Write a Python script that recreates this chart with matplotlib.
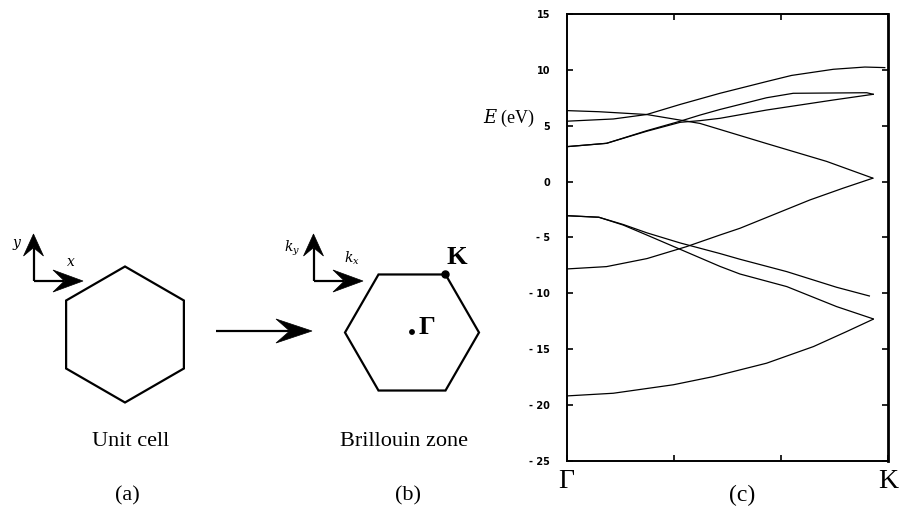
import numpy as np
import matplotlib.pyplot as plt
from matplotlib.patches import Polygon, Circle

plt.rcParams['font.family'] = ['Liberation Serif', 'DejaVu Serif']
plt.rcParams['mathtext.fontset'] = 'dejavuserif'

# Band energies (eV) along the Gamma -> K line, k given as fraction of the path
k_a = [0, 0.145, 0.249, 0.353, 0.415, 0.477, 0.56, 0.622, 0.70, 0.83, 0.928, 0.99]
e_a = [5.4, 5.6, 6.0, 6.9, 7.4, 7.9, 8.5, 8.95, 9.5, 10.05, 10.25, 10.2]

k_b = [0, 0.1, 0.249, 0.353, 0.415, 0.622, 0.809, 0.953]
e_b = [6.35, 6.25, 6.0, 5.5, 5.2, 3.4, 1.8, 0.3]

k_c1 = [0, 0.124, 0.249, 0.353, 0.415, 0.477, 0.622, 0.83, 0.954]
e_c1 = [3.12, 3.42, 4.5, 5.3, 5.45, 5.66, 6.4, 7.3, 7.81]

k_c2 = [0, 0.124, 0.249, 0.353, 0.415, 0.477, 0.56, 0.622, 0.705, 0.934, 0.954]
e_c2 = [3.12, 3.42, 4.55, 5.4, 5.95, 6.45, 7.05, 7.5, 7.9, 7.95, 7.81]

k_d1 = [0, 0.1, 0.176, 0.25, 0.353, 0.477, 0.539, 0.685, 0.84, 0.942]
e_d1 = [-3.06, -3.2, -3.85, -4.6, -5.5, -6.45, -6.96, -8.07, -9.47, -10.25]

k_d2 = [0, 0.1, 0.176, 0.25, 0.353, 0.477, 0.539, 0.685, 0.84, 0.954]
e_d2 = [-3.06, -3.2, -3.9, -4.8, -6.07, -7.6, -8.28, -9.41, -11.2, -12.3]

k_e = [0, 0.124, 0.25, 0.373, 0.477, 0.539, 0.757, 0.86, 0.952]
e_e = [-7.83, -7.62, -6.9, -5.83, -4.79, -4.19, -1.65, -0.6, 0.29]

k_f = [0, 0.145, 0.332, 0.456, 0.622, 0.768, 0.871, 0.954]
e_f = [-19.2, -18.96, -18.2, -17.47, -16.27, -14.78, -13.44, -12.33]

bands = [(k_a, e_a), (k_b, e_b), (k_c1, e_c1), (k_c2, e_c2),
         (k_d1, e_d1), (k_d2, e_d2), (k_e, e_e), (k_f, e_f)]

y_ticks = [15, 10, 5, 0, -5, -10, -15, -20, -25]
y_ticklabels = ['15', '10', '5', '0', '- 5', '- 10', '- 15', '- 20', '- 25']

W, H = 901, 509
fig = plt.figure(figsize=(W / 100, H / 100), dpi=100)

# --- overlay in pixel units for the two hexagon sketches ---
ov = fig.add_axes([0, 0, 1, 1])
ov.set_xlim(0, W)
ov.set_ylim(H, 0)
ov.axis('off')


def arrow(ax, x0, y0, x1, y1, head_len, head_w, lw=1.6):
    """Straight shaft with a filled notched arrowhead at (x1, y1)."""
    d = np.array([x1 - x0, y1 - y0], dtype=float)
    L = np.hypot(*d)
    u = d / L
    n = np.array([-u[1], u[0]])
    tip = np.array([x1, y1])
    base = tip - u * head_len
    notch = tip - u * head_len * 0.62
    ax.plot([x0, notch[0]], [y0, notch[1]], color='black', lw=lw,
            solid_capstyle='butt')
    pts = [tip, base + n * head_w, notch, base - n * head_w]
    ax.add_patch(Polygon(pts, closed=True, fc='black', ec='black', lw=0.5))


def hexagon(ax, cx, cy, r, flat_top):
    start = 0 if flat_top else 90
    ang = np.radians(start + 60 * np.arange(6))
    pts = np.column_stack([cx + r * np.cos(ang), cy - r * np.sin(ang)])
    ax.add_patch(Polygon(pts, closed=True, fill=False, ec='black', lw=1.6,
                         joinstyle='miter'))
    return pts


# (a) real-space unit cell
hexagon(ov, 125, 334.5, 68, flat_top=False)
arrow(ov, 33.5, 281, 33.5, 234, 22, 10)
arrow(ov, 33.5, 281, 83, 281, 30, 11)
ov.text(17, 245, '$y$', fontsize=10, ha='center', va='center')
ov.text(71, 263, '$x$', fontsize=10, ha='center', va='center')
ov.text(131, 442, 'Unit cell', fontsize=16, ha='center', va='center')
ov.text(127, 496, '(a)', fontsize=16, ha='center', va='center')

# arrow between the two sketches
arrow(ov, 216, 331, 312, 331, 36, 12)

# (b) first Brillouin zone
hv = hexagon(ov, 412, 332.5, 67, flat_top=True)
arrow(ov, 313.5, 281, 313.5, 234, 22, 10)
arrow(ov, 313.5, 281, 363, 281, 30, 11)
ov.text(292, 248, '$k_y$', fontsize=10, ha='center', va='center')
ov.text(352, 258, '$k_x$', fontsize=10, ha='center', va='center')
kx, ky = hv[1]
ov.add_patch(Circle((kx, ky), 3.5, color='black'))
ov.text(457, 257, 'K', fontsize=19, fontweight='bold', ha='center', va='center')
ov.add_patch(Circle((412, 332), 2.2, color='black'))
ov.text(427, 328, 'Γ', fontsize=19, fontweight='bold', ha='center', va='center')
ov.text(404, 442, 'Brillouin zone', fontsize=16, ha='center', va='center')
ov.text(408, 496, '(b)', fontsize=16, ha='center', va='center')

# --- (c) band structure ---
ax = fig.add_axes([566.7 / W, 1 - 460.7 / H, 321.3 / W, 446.7 / H])
for k, e in bands:
    ax.plot(k, e, color='black', lw=0.9)

ax.set_xlim(0, 1)
ax.set_ylim(-25, 15)
ax.set_xticks([0, 1 / 3, 2 / 3, 1])
ax.set_xticklabels(['Γ', '', '', 'K'], fontsize=20)
ax.set_yticks(y_ticks)
ax.set_yticklabels(y_ticklabels, fontsize=7, fontweight='bold',
                   family='DejaVu Sans')
ax.tick_params(axis='both', direction='in', top=True, right=True,
               length=4, width=1.2)
ax.tick_params(axis='x', pad=6)
ax.tick_params(axis='y', pad=12)
for s in ax.spines.values():
    s.set_linewidth(1.4)
ax.spines['right'].set_linewidth(2.0)

fig.text(483 / W, 1 - 118 / H, '$E$ (eV)', fontsize=13, ha='left', va='center')
fig.text(742 / W, 1 - 495 / H, '(c)', fontsize=17, ha='center', va='center')

fig.savefig('out.png', dpi=100)
